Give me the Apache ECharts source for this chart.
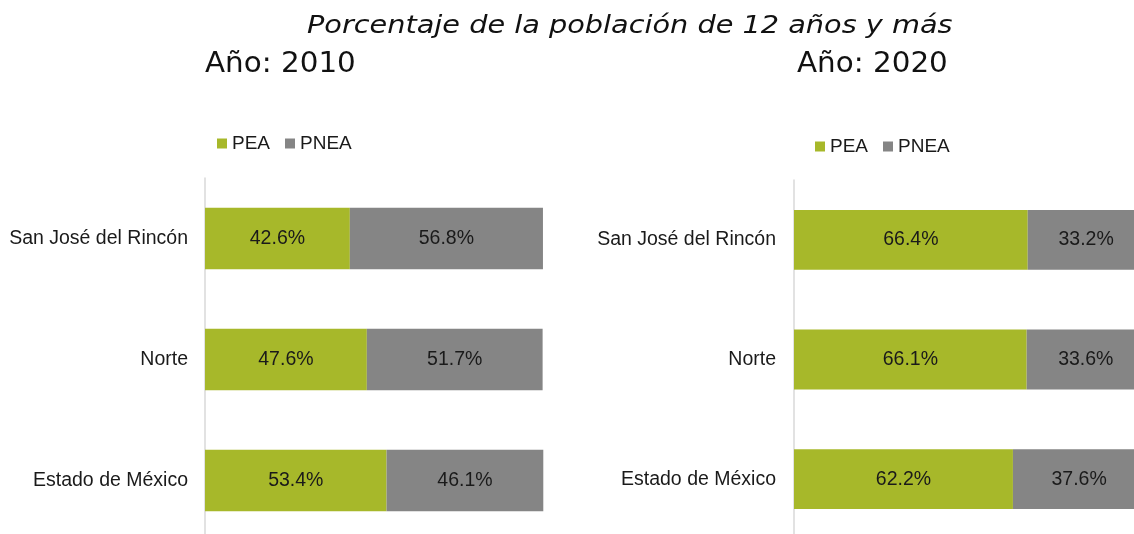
<!DOCTYPE html>
<html>
<head>
<meta charset="utf-8">
<script src="https://cdn.jsdelivr.net/npm/echarts@6/dist/echarts.min.js"></script>
<style>
  html, body { margin: 0; padding: 0; background: #fff; overflow: hidden; }
  #chart { width: 1160px; height: 570px; }
</style>
</head>
<body>
<div id="chart"></div>
<script>
// categories, top to bottom
const categories = ['San José del Rincón', 'Norte', 'Estado de México'];

// year 2010
const pea2010 = [42.6, 47.6, 53.4];
const pnea2010 = [56.8, 51.7, 46.1];

// year 2020
const pea2020 = [66.4, 66.1, 62.2];
const pnea2020 = [33.2, 33.6, 37.6];

const GREEN = '#a7b82a';
const GRAY = '#858585';
const FONT = '"Liberation Sans", Arial, sans-serif';
const TITLE_FONT = '"DejaVu Sans", sans-serif';

const chart = echarts.init(document.getElementById('chart'));

function barSeries(name, data, color, idx, width) {
  return {
    name: name,
    type: 'bar',
    stack: 'total' + idx,
    xAxisIndex: idx,
    yAxisIndex: idx,
    data: data,
    barWidth: width,
    itemStyle: { color: color },
    label: {
      show: true,
      position: 'inside',
      formatter: p => p.value.toFixed(1) + '%',
      color: '#1a1a1a',
      fontFamily: FONT,
      fontSize: 19.5
    }
  };
}

function yAxis(idx, margin) {
  return {
    type: 'category',
    gridIndex: idx,
    data: categories,
    inverse: true,
    axisLine: { show: true, lineStyle: { color: '#d9d9d9', width: 1.5 } },
    axisTick: { show: false },
    axisLabel: { color: '#1a1a1a', fontFamily: FONT, fontSize: 19.5, margin: margin }
  };
}

function xAxis(idx) {
  return { type: 'value', gridIndex: idx, min: 0, max: 100, show: false };
}

// second chart's series names carry a trailing space so the two legends stay apart
function legend(names, left, top) {
  return {
    data: names,
    left: left, top: top,
    itemWidth: 10, itemHeight: 10, itemGap: 15,
    icon: 'rect',
    formatter: n => n.trim(),
    textStyle: { fontFamily: FONT, fontSize: 19, color: '#1a1a1a' }
  };
}

function heading(text, x, y, size, italic, sx) {
  return {
    type: 'text',
    x: x, y: y,
    scaleX: sx,
    silent: true,
    style: {
      text: text,
      fill: '#111',
      font: (italic ? 'oblique ' : '') + size + 'px ' + TITLE_FONT,
      align: 'left',
      verticalAlign: 'middle'
    }
  };
}

chart.setOption({
  animation: false,
  graphic: [
    heading('Porcentaje de la población de 12 años y más', 307, 26, 25, true, 1.15),
    heading('Año: 2010', 205, 65, 28, false, 1.05),
    heading('Año: 2020', 797, 65, 28, false, 1.05)
  ],
  legend: [
    legend(['PEA', 'PNEA'], 212, 129),
    legend(['PEA ', 'PNEA '], 810, 132)
  ],
  grid: [
    { left: 205, top: 178, width: 340, height: 363 },
    { left: 794, top: 180, width: 352, height: 359 }
  ],
  xAxis: [xAxis(0), xAxis(1)],
  yAxis: [yAxis(0, 17), yAxis(1, 18)],
  series: [
    barSeries('PEA', pea2010, GREEN, 0, '51%'),
    barSeries('PNEA', pnea2010, GRAY, 0, '51%'),
    barSeries('PEA ', pea2020, GREEN, 1, '50%'),
    barSeries('PNEA ', pnea2020, GRAY, 1, '50%')
  ]
});
</script>
</body>
</html>
